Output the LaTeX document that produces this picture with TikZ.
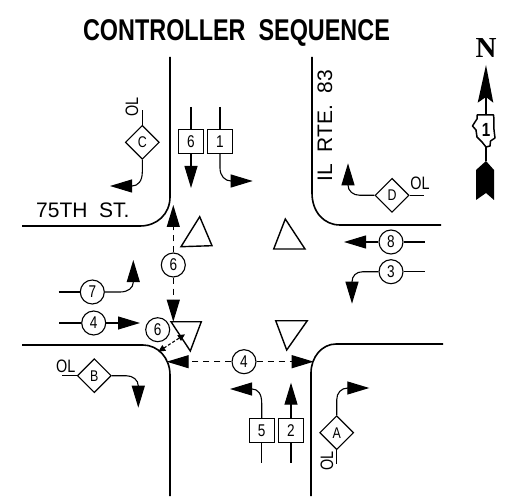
\documentclass[tikz,border=0pt]{standalone}
\usepackage{fontspec}
\setmainfont{Liberation Sans}
\newfontfamily\ttlfont[FakeStretch=0.78]{Liberation Sans}
\newfontfamily\lblfont[FakeStretch=0.8]{Liberation Sans}
\newfontfamily\nfont{Liberation Serif}
\usetikzlibrary{arrows.meta,shapes.geometric}
\tikzset{
  x=1pt,y=-1pt,
  road/.style={line width=1.6pt},
  lane/.style={line width=1.1pt},
  move/.style={line width=1.1pt,-{Triangle[length=22pt,width=13pt]}},
  dmove/.style={move,dash pattern=on 6pt off 5pt},
  smalld/.style={line width=1.1pt,dash pattern=on 3pt off 2pt,{Triangle[length=7pt,width=6.5pt]}-{Triangle[length=7pt,width=6.5pt]}},
  sig/.style={draw,line width=1.4pt,line join=miter,fill=white},
  phc/.style={circle,draw,line width=1.1pt,fill=white,minimum size=24pt,inner sep=0pt,font=\lblfont\fontsize{17}{17}\selectfont},
  phb/.style={rectangle,draw,line width=1.1pt,fill=white,minimum width=25pt,minimum height=24pt,inner sep=0pt,font=\lblfont\fontsize{17}{17}\selectfont},
  phd/.style={diamond,draw,line width=1.1pt,fill=white,minimum width=34pt,minimum height=34pt,inner sep=0pt,font=\lblfont\fontsize{15.5}{15.5}\selectfont},
  ol/.style={inner sep=0pt,font=\lblfont\fontsize{18}{18}\selectfont},
  road label/.style={inner sep=0pt,font=\fontsize{21}{21}\selectfont},
}
\begin{document}
\begin{tikzpicture}
\useasboundingbox[fill=white] (0,0) rectangle (506,497);
% title
\node[inner sep=0pt,anchor=base,font=\ttlfont\bfseries\fontsize{30}{30}\selectfont] (title) at (236.5,41) {CONTROLLER\ \ SEQUENCE};
% curbs
\draw[road] (170,57) -- (170,197) .. controls (170,214) and (157,226) .. (140,226) -- (22,226);
\draw[road] (312,57) -- (312,193) .. controls (312,212) and (324,225) .. (340,225) -- (441,225);
\draw[road] (22,345) -- (143,345) .. controls (158,345) and (170,358) .. (170,375) -- (170,496);
\draw[road] (443,344) -- (336,344) .. controls (322,344) and (311,357) .. (311,373) -- (311,496);
% road names
\node[road label,anchor=base west] (st75) at (36,218) {75TH\ \ ST.};
\node[road label,anchor=base west,rotate=90] (rte83) at (332,182) {IL\ \ RTE.\ \ 83};
% signal heads
\draw[sig] (199.7,216.7) -- (181,246.7) -- (212,245.7) -- cycle;
\draw[sig] (285.3,219) -- (273.7,249) -- (305,249) -- cycle;
\draw[sig] (171,321.7) -- (201.3,321.7) -- (190.3,351) -- cycle;
\draw[sig] (275.7,320.7) -- (307.3,320.7) -- (286.7,350) -- cycle;
% north boxes
\node[phb] (b6) at (191,141.7) {6};
\node[phb] (b1) at (220,141.7) {1};
\coordinate (b6t) at (191,107); \coordinate (b6e) at (191,188);
\coordinate (b1t) at (220,107); \coordinate (b1e) at (252.7,181);
\draw[lane] (b6t) -- (b6.north);
\draw[lane] (b1t) -- (b1.north);
\draw[move] (b6.south) -- (b6e);
\draw[move] (b1.south) -- (220,168) .. controls (220,176) and (225,181) .. (231,181) -- (b1e);
% diamond C
\node[phd] (dc) at (142.3,142.3) {C};
\node[ol,rotate=90] (olc) at (132,107) {OL};
\coordinate (dct) at (142.3,110); \coordinate (dce) at (110,186);
\draw[lane] (dc.north) -- (dct);
\draw[move] (dc.south) -- (142.3,172) .. controls (142.3,181) and (138,186) .. (132,186) -- (dce);
% diamond D
\node[phd] (dd) at (392,195.3) {D};
\node[ol] (old) at (420,183) {OL};
\coordinate (ddr) at (424,195.3); \coordinate (dde) at (348,163.3);
\draw[lane] (dd.east) -- (ddr);
\draw[move] (dd.west) -- (360,195.3) .. controls (353,195.3) and (348,191) .. (348,185) -- (dde);
% 8 and 3
\node[phc] (c8) at (391,242) {8};
\coordinate (c8r) at (425,242); \coordinate (c8e) at (344,242);
\draw[lane] (c8.east) -- (c8r);
\draw[move] (c8.west) -- (c8e);
\node[phc] (c3) at (391,271.7) {3};
\coordinate (c3r) at (425,271.7); \coordinate (c3e) at (352,303.7);
\draw[lane] (c3.east) -- (c3r);
\draw[move] (c3.west) -- (363,271.7) .. controls (356,271.7) and (352,276) .. (352,282) -- (c3e);
% 7 and 4
\node[phc] (c7) at (92.3,292) {7};
\coordinate (c7l) at (58.7,292); \coordinate (c7e) at (133.3,260);
\draw[lane] (c7l) -- (c7.west);
\draw[move] (c7.east) -- (120,292) .. controls (128,292) and (133.3,288) .. (133.3,282) -- (c7e);
\node[phc] (c4l) at (93.7,323) {4};
\coordinate (c4ll) at (59,323); \coordinate (c4e) at (140,323);
\draw[lane] (c4ll) -- (c4l.west);
\draw[move] (c4l.east) -- (c4e);
% pedestrian phases
\node[phc] (c6m) at (173.3,265) {6};
\coordinate (c6n) at (173.3,205); \coordinate (c6s) at (173.3,321.7);
\draw[dmove] (c6m.north) -- (c6n);
\draw[dmove] (c6m.south) -- (c6s);
\node[phc] (c4m) at (244,361.7) {4};
\coordinate (c4w) at (166.7,361.7); \coordinate (c4o) at (313.7,361.7);
\draw[dmove] (c4m.west) -- (c4w);
\draw[dmove] (c4m.east) -- (c4o);
\node[phc] (c6l) at (157.7,329.7) {6};
\coordinate (p6a) at (158.3,351.7); \coordinate (p6b) at (185,334.3);
\draw[smalld] (p6a) -- (p6b);
% diamond B
\node[phd] (db) at (94.3,375.7) {B};
\node[ol] (olb) at (65.7,366) {OL};
\coordinate (dbl) at (62,375.7); \coordinate (dbe) at (138.3,407.7);
\draw[lane] (dbl) -- (db.west);
\draw[move] (db.east) -- (126,375.7) .. controls (133,375.7) and (138.3,380) .. (138.3,386) -- (dbe);
% south boxes
\node[phb] (b5) at (261.7,430.5) {5};
\node[phb] (b2) at (291,430.5) {2};
\coordinate (b5b) at (261.7,463); \coordinate (b5e) at (230,389);
\coordinate (b2b) at (291,463); \coordinate (b2e) at (291,382.7);
\draw[lane] (b5.south) -- (b5b);
\draw[lane] (b2.south) -- (b2b);
\draw[move] (b5.north) -- (261.7,403) .. controls (261.7,394) and (258,389) .. (252,389) -- (b5e);
\draw[move] (b2.north) -- (b2e);
% diamond A
\node[phd] (da) at (336.7,432.7) {A};
\node[ol,rotate=90] (ola) at (327,460.7) {OL};
\coordinate (dab) at (336.7,464); \coordinate (dae) at (369.3,388);
\draw[lane] (da.south) -- (dab);
\draw[move] (da.north) -- (336.7,400) .. controls (336.7,393) and (341,388) .. (348,388) -- (dae);
% north arrow
\node[inner sep=0pt,anchor=base,font=\nfont\bfseries\fontsize{29}{29}\selectfont] (north) at (486,58) {N};
\coordinate (na) at (486,65);
\coordinate (nf) at (486,161);
\fill (na) -- (493.3,102.7) -- (486,97) -- (477.7,102.7) -- cycle;
\draw[line width=1.2pt] (486,97) -- (nf);
\fill (nf) -- (494,170) -- (494,200) -- (486,193) -- (476,200) -- (476,170) -- cycle;
\draw[line width=1.5pt,fill=white,line join=round] (477,115) -- (493.7,115) -- (494,130) -- (495,138) -- (490.5,141) -- (490,146) -- (486,147) -- (482,142) -- (477,137) -- (476,130) -- (472.5,126) -- (475,122) -- (477,119) -- cycle;
\node[inner sep=0pt,font=\lblfont\bfseries\fontsize{19}{19}\selectfont] (ilone) at (486,130) {1};
\end{tikzpicture}
\end{document}
